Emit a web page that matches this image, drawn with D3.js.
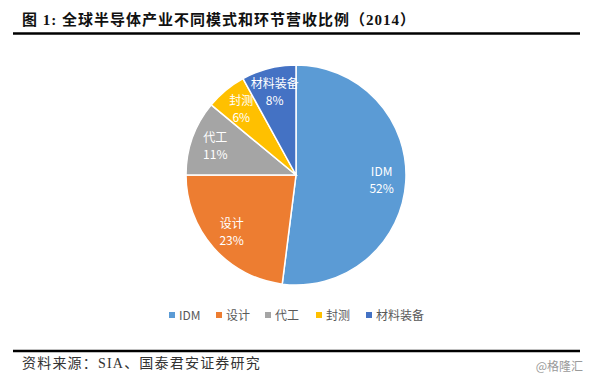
<!DOCTYPE html>
<html>
<head>
  <meta charset="UTF-8">
  <title>全球半导体产业不同模式和环节营收比例</title>
  <script src="https://d3js.org/d3.v7.min.js"></script>
  <style>
    body { margin: 0; background: #fff; }
    .chart svg { display: block; }
  </style>
</head>
<body>

<div class="chart"></div>

<script>
  var width = 591, height = 382;

  var categories = ['IDM', '设计', '代工', '封测', '材料装备'];
  var shares = [52, 23, 11, 6, 8];
  var colors = ['#5B9BD5', '#ED7D31', '#A5A5A5', '#FFC000', '#4472C4'];

  var data = categories.map((c, i) => ({name: c, value: shares[i]}));

  var svg = d3.select('.chart')
    .append('svg')
      .attr('width', width)
      .attr('height', height);

  var serif = '"Liberation Serif", "Noto Sans CJK SC", serif';
  var sans = '"Noto Sans CJK SC", "Noto Sans", sans-serif';

  // title + rules
  svg.append('text')
    .attr('x', 22).attr('y', 25)
    .style('font-family', serif)
    .style('font-size', '15px')
    .style('letter-spacing', '1px')
    .style('font-weight', 'bold')
    .style('fill', '#111')
    .text('图 1:  全球半导体产业不同模式和环节营收比例（2014）');

  svg.append('line')
    .attr('x1', 13).attr('x2', 580).attr('y1', 33.5).attr('y2', 33.5)
    .attr('stroke', '#000').attr('stroke-width', 2.5);

  svg.append('line')
    .attr('x1', 13).attr('x2', 580).attr('y1', 351).attr('y2', 351)
    .attr('stroke', '#000').attr('stroke-width', 2.5);

  svg.append('text')
    .attr('x', 22).attr('y', 368)
    .style('font-family', serif)
    .style('font-size', '14px')
    .style('letter-spacing', '1.2px')
    .style('fill', '#333')
    .text('资料来源：SIA、国泰君安证券研究');

  svg.append('text')
    .attr('x', 583).attr('y', 371)
    .attr('text-anchor', 'end')
    .style('font-family', sans)
    .style('font-size', '12px')
    .style('fill', '#9a9a9a')
    .text('@格隆汇');

  // pie
  var radius = 110;
  var pie = d3.pie().sort(null).value(d => d.value);
  var arc = d3.arc().innerRadius(0).outerRadius(radius);
  var labelArc = d3.arc().innerRadius(radius * 0.78).outerRadius(radius * 0.78);

  var color = d3.scaleOrdinal().domain(categories).range(colors);

  var g = svg.append('g')
    .attr('transform', 'translate(296, 175)');

  var slices = g.selectAll('.slice')
    .data(pie(data))
    .enter()
    .append('g')
      .attr('class', 'slice');

  slices.append('path')
    .attr('d', arc)
    .attr('fill', d => color(d.data.name))
    .attr('stroke', '#fff')
    .attr('stroke-width', 1.5);

  var labels = slices.append('text')
    .attr('transform', d => 'translate(' + labelArc.centroid(d) + ')')
    .attr('text-anchor', 'middle')
    .style('font-family', sans)
    .style('font-size', '12px')
    .style('fill', '#fff');

  labels.append('tspan')
    .attr('x', 0).attr('y', -4)
    .text(d => d.data.name);
  labels.append('tspan')
    .attr('x', 0).attr('y', 13)
    .text(d => d.data.value + '%');

  // legend
  var legendX = [169, 216, 265, 316, 366];
  var legend = svg.selectAll('.legend')
    .data(categories)
    .enter()
    .append('g')
      .attr('class', 'legend')
      .attr('transform', (d, i) => 'translate(' + legendX[i] + ', 315)');

  legend.append('rect')
    .attr('x', 0).attr('y', -3)
    .attr('width', 6).attr('height', 6)
    .attr('fill', d => color(d));

  legend.append('text')
    .attr('x', 10).attr('y', 4.5)
    .style('font-family', sans)
    .style('font-size', '12px')
    .style('fill', '#595959')
    .text(d => d);
</script>

</body>
</html>
